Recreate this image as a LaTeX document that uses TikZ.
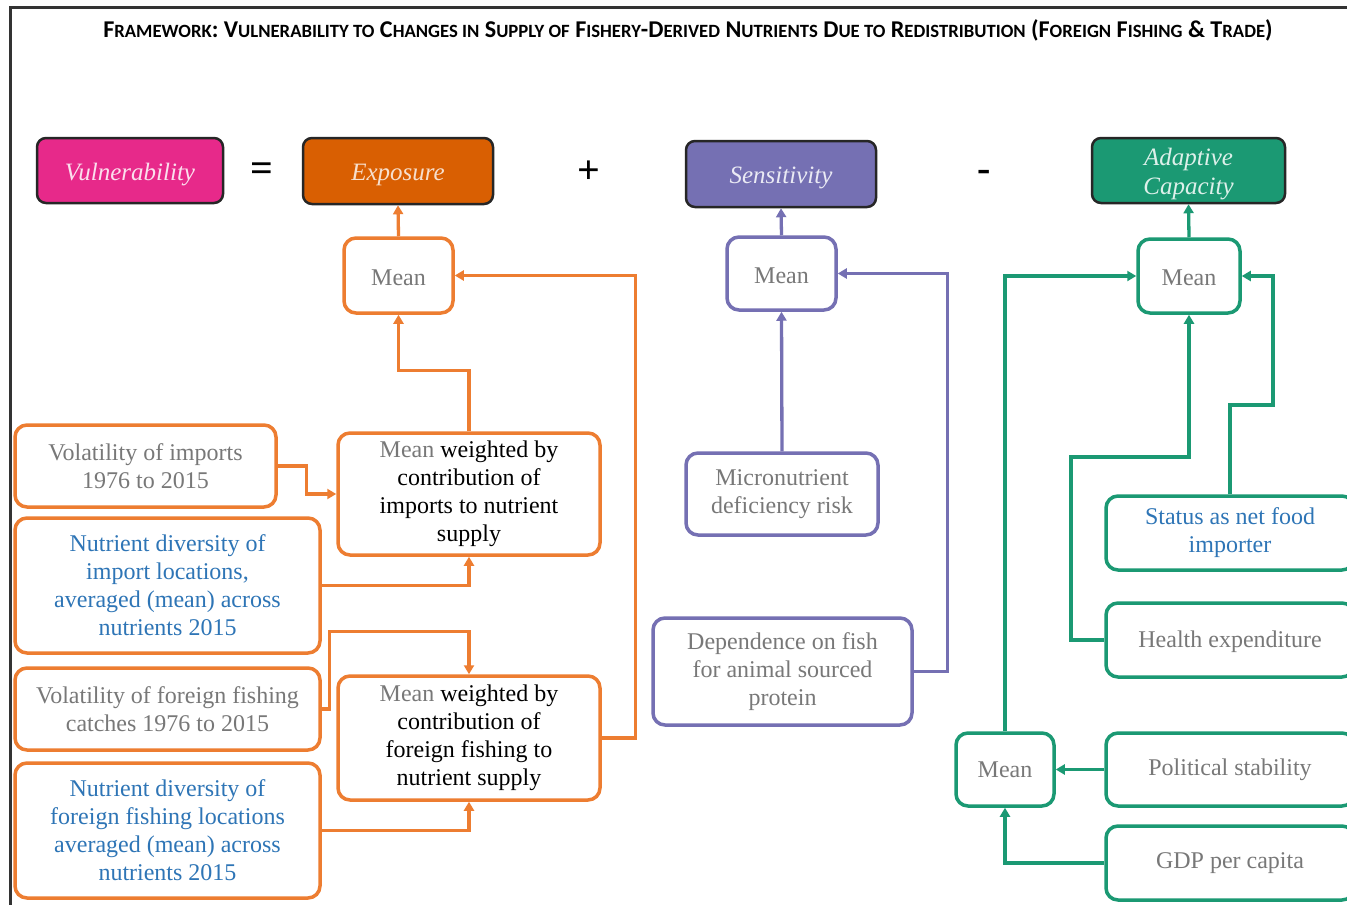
\documentclass[tikz,border=0pt]{standalone}
\usepackage{fontspec}
\setmainfont{Liberation Serif}
\newfontfamily\titlefont{Carlito}
\usetikzlibrary{arrows.meta,calc}
\definecolor{cOr}{RGB}{237,125,49}
\definecolor{cExp}{RGB}{217,95,2}
\definecolor{cPu}{RGB}{117,112,179}
\definecolor{cGr}{RGB}{27,153,115}
\definecolor{cMag}{RGB}{231,41,138}
\definecolor{cBlue}{RGB}{46,117,182}
\definecolor{cGrey}{RGB}{120,120,120}
\newcommand\TC[2]{{\fontsize{24.1}{25}\selectfont #1}{\fontsize{18.7}{20}\selectfont #2}}
\newcommand\lowtxt[1]{\raisebox{-4pt}[\height][\depth]{\begin{tabular}{@{}c@{}}#1\end{tabular}}}
\newcommand\lowtwo[1]{\raisebox{-2pt}[\height][\depth]{#1}}
\tikzset{
  topbox/.style={draw=black!85, line width=2.5pt, rounded corners=9pt, align=center,
    font=\fontsize{25}{29}\selectfont\itshape, inner sep=0pt},
  inbox/.style={draw=#1, line width=3.5pt, rounded corners=12pt, fill=white, align=center,
    font=\fontsize{24}{28}\selectfont, inner sep=0pt, text=cGrey},
  conn/.style={draw=#1, line width=3.3pt, -{Triangle[length=9pt,width=10pt]}},
  sym/.style={font=\fontsize{40}{40}\selectfont\bfseries}
}
\begin{document}
\begin{tikzpicture}[x=1pt,y=-1pt]
\useasboundingbox (0,0) rectangle (1347,905);
\clip (0,0) rectangle (1347,905);
\fill[white] (0,0) rectangle (1347,905);
\draw[line width=3pt, black!80] (10,910) -- (10,7) -- (1360,7);
\node[font=\titlefont\bfseries\fontsize{24.1}{25}\selectfont] (title) at (688,30)
 {\TC{F}{RAMEWORK}: \TC{V}{ULNERABILITY TO} \TC{C}{HANGES IN} \TC{S}{UPPLY OF} \TC{F}{ISHERY}-\TC{D}{ERIVED} \TC{N}{UTRIENTS} \TC{D}{UE TO} \TC{R}{EDISTRIBUTION} (\TC{F}{OREIGN} \TC{F}{ISHING} \TC{\&}{} \TC{T}{RADE})};

% top row
\node[topbox, fill=cMag, text=white!85!cMag, minimum width=186pt, minimum height=65pt] (vul) at (130,170.5) {\lowtxt{Vulnerability}};
\node[sym] (eq) at (262,172) {=};
\node[topbox, fill=cExp, text=white!80!cExp, minimum width=190pt, minimum height=66pt] (exp) at (398,171) {\lowtxt{Exposure}};
\node[sym] (plus) at (589,172) {+};
\node[topbox, fill=cPu, text=white!85!cPu, minimum width=190pt, minimum height=66pt] (sen) at (781,174) {\lowtxt{Sensitivity}};
\node[sym] (minus) at (984,176) {-};
\node[topbox, fill=cGr, text=white!85!cGr, minimum width=193pt, minimum height=65pt] (ada) at (1188.5,170.5) {\lowtxt{Adaptive\\Capacity}};

% exposure branch
\node[inbox=cOr, minimum width=109pt, minimum height=75pt] (omean) at (398.5,275.5) {\lowtwo{Mean}};
\node[inbox=cOr, minimum width=262pt, minimum height=122pt, text=black] (wm1) at (469,494) {{\color{cGrey}Mean} weighted by\\contribution of\\imports to nutrient\\supply};
\node[inbox=cOr, minimum width=261pt, minimum height=82pt] (vi) at (145.5,466) {Volatility of imports\\1976 to 2015};
\node[inbox=cOr, minimum width=305pt, minimum height=135pt, text=cBlue] (ndi) at (167.5,585.5) {Nutrient diversity of\\import locations,\\averaged (mean) across\\nutrients 2015};
\node[inbox=cOr, minimum width=305pt, minimum height=82pt] (vf) at (167.5,709) {Volatility of foreign fishing\\catches 1976 to 2015};
\node[inbox=cOr, minimum width=262pt, minimum height=124pt, text=black] (wm2) at (469,738) {{\color{cGrey}Mean} weighted by\\contribution of\\foreign fishing to\\nutrient supply};
\node[inbox=cOr, minimum width=305pt, minimum height=135pt, text=cBlue] (ndf) at (167.5,830.5) {Nutrient diversity of\\foreign fishing locations\\averaged (mean) across\\nutrients 2015};

\draw[conn=cOr] (omean.north) -- (exp.south);
\draw[conn=cOr] (wm1.north) -- ++(0,-61) -| (omean.south);
\draw[conn=cOr] (vi.east) -- ++(29,0) |- (wm1.west);
\draw[conn=cOr] (ndi.east) -| (wm1.south);
\draw[conn=cOr] (vf.east) -- ++(8,0) |- ($(wm2.north)+(0,-43)$) -- (wm2.north);
\draw[conn=cOr] (ndf.east) -| (wm2.south);
\draw[conn=cOr] (wm2.east) -- ++(34,0) |- (omean.east);

% sensitivity branch
\node[inbox=cPu, minimum width=109pt, minimum height=73pt] (pmean) at (781.5,273.5) {\lowtwo{Mean}};
\node[inbox=cPu, minimum width=192pt, minimum height=82pt] (micro) at (782,494) {Micronutrient\\deficiency risk};
\node[inbox=cPu, minimum width=259pt, minimum height=107pt] (dep) at (782.5,671.5) {Dependence on fish\\for animal sourced\\protein};
\draw[conn=cPu] (pmean.north) -- (sen.south);
\draw[conn=cPu] (micro.north) -- (pmean.south);
\draw[conn=cPu] (dep.east) -- ++(34,0) |- (pmean.east);

% adaptive capacity branch
\node[inbox=cGr, minimum width=102pt, minimum height=74pt] (gmean) at (1189,276) {\lowtwo{Mean}};
\node[inbox=cGr, minimum width=248pt, minimum height=74pt, text=cBlue] (status) at (1230,533) {Status as net food\\importer};
\node[inbox=cGr, minimum width=248pt, minimum height=74pt] (health) at (1230,640) {\lowtwo{Health expenditure}};
\node[inbox=cGr, minimum width=98pt, minimum height=73pt] (gmean2) at (1005,769.5) {Mean};
\node[inbox=cGr, minimum width=248pt, minimum height=73pt] (pol) at (1230,769.5) {Political stability};
\node[inbox=cGr, minimum width=248pt, minimum height=74pt] (gdp) at (1230,863) {GDP per capita};
\draw[conn=cGr] (gmean.north) -- (ada.south);
\draw[conn=cGr] (status.north) |- (1273,405) |- (gmean.east);
\draw[conn=cGr] (health.west) -| (1071,457) -| (gmean.south);
\draw[conn=cGr] (gmean2.north) |- (gmean.west);
\draw[conn=cGr] (pol.west) -- (gmean2.east);
\draw[conn=cGr] (gdp.west) -| (gmean2.south);
\end{tikzpicture}
\end{document}
